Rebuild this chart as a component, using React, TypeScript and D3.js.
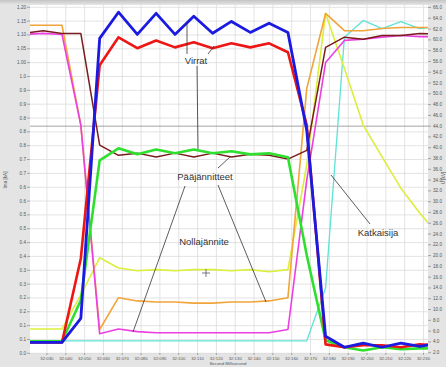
import React from "react";
import * as d3 from "d3";

// sample times in ms after 32 s
const times = [18, 28, 38, 48, 58, 68, 78, 88, 98, 108, 118, 128, 138, 148, 158, 168, 178, 188, 198, 208, 218, 228, 238];

// currents (left axis, kA) – "Virrat"
const blueI = [0.038, 0.038, 0.038, 0.121, 1.092, 1.183, 1.106, 1.179, 1.106, 1.169, 1.110, 1.151, 1.113, 1.145, 1.113, 0.773, 0.059, 0.021, 0.035, 0.021, 0.035, 0.024, 0.035];
const redI = [0.038, 0.038, 0.038, 0.329, 0.999, 1.096, 1.058, 1.085, 1.061, 1.079, 1.058, 1.075, 1.061, 1.075, 1.044, 0.791, 0.031, 0.021, 0.028, 0.028, 0.021, 0.031, 0.028];
const greenI = [0.042, 0.042, 0.042, 0.184, 0.669, 0.711, 0.690, 0.707, 0.694, 0.707, 0.694, 0.701, 0.690, 0.694, 0.680, 0.340, 0.045, 0.021, 0.010, 0.021, 0.014, 0.017, 0.017];

// voltages (right axis) – "Pääjännitteet", "Nollajännite", "Katkaisija"
const brownU = [61.2, 61.7, 61.2, 61.2, 40.5, 38.6, 39.0, 38.3, 39.0, 38.3, 39.0, 38.3, 38.8, 38.6, 37.9, 39.5, 58.6, 60.5, 60.1, 60.8, 60.8, 61.2, 61.0];
const magentaU = [61.0, 61.2, 61.0, 44.2, 5.5, 6.4, 5.9, 5.7, 5.7, 5.7, 5.7, 5.7, 5.7, 5.7, 6.3, 34.0, 55.8, 59.9, 60.1, 60.5, 60.8, 60.6, 60.6];
const orangeU = [62.7, 62.7, 62.7, 44.2, 6.3, 12.2, 11.6, 11.4, 11.4, 11.2, 11.2, 11.4, 11.4, 11.6, 12.2, 51.0, 64.9, 61.7, 61.7, 62.1, 62.3, 62.3, 62.3];
const yellowU0 = [6.4, 6.4, 6.4, 12.7, 19.6, 17.7, 17.2, 17.4, 17.2, 17.4, 17.4, 17.2, 17.4, 17.0, 17.4, 36.8, 64.9, 54.7, 44.2, 38.3, 32.5, 27.9, 23.8];
const cyanBrk = [4.2, 4.2, 4.2, 4.2, 4.2, 4.2, 4.2, 4.2, 4.2, 4.2, 4.2, 4.2, 4.2, 4.2, 4.2, 4.2, 14.0, 60.5, 63.6, 62.1, 63.4, 62.1, 62.5];

const leftTickLabels = ["1.20", "1.15", "1.10", "1.05", "1.00", "1.0", "0.9", "0.9", "0.8", "0.8", "0.8", "0.7", "0.7", "0.6", "0.6", "0.5", "0.5", "0.4", "0.4", "0.3", "0.3", "0.2", "0.2", "0.1", "0.1", "0.0"];
const rightTicks = d3.range(66, 1, -2);
const xTicks = d3.range(30, 231, 10);

const W = 446, H = 367;
const PL = 30, PR = 428, PT = 5, PB = 353;

export default function App() {
  const x = d3.scaleLinear().domain([21, 232.4]).range([PL, PR]);
  const yL = d3.scaleLinear().domain([0, 1.2]).range([353.3, 7.3]);
  const yR = d3.scaleLinear().domain([2, 66]).range([352.7, 7.5]);
  const leftTickVals = leftTickLabels.map((_, i) => 1.2 - i * 0.048);

  const lineL = (vals: number[]) =>
    d3.line<number>().x((_, i) => x(times[i])).y((v) => yL(v))(vals) || "";
  const lineR = (vals: number[]) =>
    d3.line<number>().x((_, i) => x(times[i])).y((v) => yR(v))(vals) || "";

  const series = [
    { d: lineR(cyanBrk), c: "#5fe3d6", w: 1.3 },
    { d: lineR(yellowU0), c: "#dcee3c", w: 1.6 },
    { d: lineR(orangeU), c: "#f0a43a", w: 1.6 },
    { d: lineR(magentaU), c: "#ec3fe0", w: 1.6 },
    { d: lineR(brownU), c: "#7a1c1c", w: 1.5 },
    { d: lineL(greenI), c: "#2ee02e", w: 2.6 },
    { d: lineL(redI), c: "#ee1515", w: 2.6 },
    { d: lineL(blueI), c: "#1a1ae0", w: 2.8 },
  ];

  const font = "'Liberation Sans', Arial, sans-serif";
  const ann = "#333";

  return (
    <div style={{ position: "absolute", left: 0, top: 0 }}>
      <svg width={W} height={H} style={{ display: "block", fontFamily: font }}>
        <defs>
          <linearGradient id="topband" x1="0" y1="0" x2="0" y2="1">
            <stop offset="0" stopColor="#c4c4c4" />
            <stop offset="1" stopColor="#e6e6e6" />
          </linearGradient>
          <clipPath id="plotclip">
            <rect x={PL} y={PT} width={PR - PL} height={PB - PT} />
          </clipPath>
        </defs>
        <rect x={0} y={0} width={W} height={H} fill="#e4e4e4" />
        <rect x={0} y={0} width={W} height={5} fill="url(#topband)" />
        <rect x={PL} y={PT} width={PR - PL} height={PB - PT} fill="#ffffff" />

        {/* grid */}
        <g stroke="#dcdcdc" strokeWidth={0.8}>
          {leftTickVals.map((v, i) => (
            <line key={"h" + i} x1={PL} x2={PR} y1={yL(v)} y2={yL(v)} />
          ))}
          {xTicks.map((t) => (
            <line key={"v" + t} x1={x(t)} x2={x(t)} y1={PT} y2={PB} />
          ))}
        </g>
        <line x1={PL} x2={PR} y1={yR(44)} y2={yR(44)} stroke="#9a9a9a" strokeWidth={0.9} />

        {/* series */}
        <g clipPath="url(#plotclip)" fill="none" strokeLinejoin="round">
          {series.map((s, i) => (
            <path key={i} d={s.d} stroke={s.c} strokeWidth={s.w} />
          ))}
        </g>

        {/* axes */}
        <g fontSize={4.6} fill="#555">
          {leftTickVals.map((v, i) => (
            <g key={"l" + i}>
              <line x1={PL - 3} x2={PL} y1={yL(v)} y2={yL(v)} stroke="#777" strokeWidth={0.6} />
              <text x={PL - 4} y={yL(v)} textAnchor="end" dominantBaseline="central">
                {leftTickLabels[i]}
              </text>
            </g>
          ))}
          {rightTicks.map((v) => (
            <g key={"r" + v}>
              <line x1={PR} x2={PR + 3} y1={yR(v)} y2={yR(v)} stroke="#777" strokeWidth={0.6} />
              <text x={PR + 5} y={yR(v)} textAnchor="start" dominantBaseline="central">
                {v.toFixed(1)}
              </text>
            </g>
          ))}
          {xTicks.map((t) => (
            <g key={"x" + t}>
              <line x1={x(t)} x2={x(t)} y1={PB} y2={PB + 2} stroke="#777" strokeWidth={0.6} />
              <text x={x(t)} y={PB + 5.5} textAnchor="middle" dominantBaseline="central" fontSize={4.3}>
                {"32:" + String(t).padStart(3, "0")}
              </text>
            </g>
          ))}
          <text x={228} y={363.5} textAnchor="middle" dominantBaseline="central" fontSize={4.3}>
            Second Millisecond
          </text>
          <text transform="translate(5,180) rotate(-90)" textAnchor="middle" dominantBaseline="central" fontSize={4.6}>
            Ima [kA]
          </text>
          <text transform="translate(443,178) rotate(-90)" textAnchor="middle" dominantBaseline="central" fontSize={4.6}>
            U [kV]
          </text>
        </g>

        {/* annotations */}
        <g stroke={ann} strokeWidth={0.8}>
          <line x1={187} y1={54} x2={187} y2={23} />
          <line x1={208} y1={54} x2={214} y2={46} />
          <line x1={197} y1={66} x2={198} y2={149} />
          <line x1={218} y1={168} x2={230} y2={157} />
          <line x1={185} y1={186} x2={133} y2={332} />
          <line x1={218} y1={185} x2={266} y2={302} />
          <line x1={370} y1={224} x2={331} y2={175} />
        </g>
        <g fontSize={9.5} fill="#333" textAnchor="middle" dominantBaseline="central">
          <text x={196} y={60}>Virrat</text>
          <text x={205} y={176}>Pääjännitteet</text>
          <text x={204} y={241}>Nollajännite</text>
          <text x={378} y={232}>Katkaisija</text>
        </g>
        <g stroke="#556" strokeWidth={0.8}>
          <line x1={202} y1={273} x2={210} y2={273} />
          <line x1={206} y1={269} x2={206} y2={277} />
        </g>
      </svg>
    </div>
  );
}
